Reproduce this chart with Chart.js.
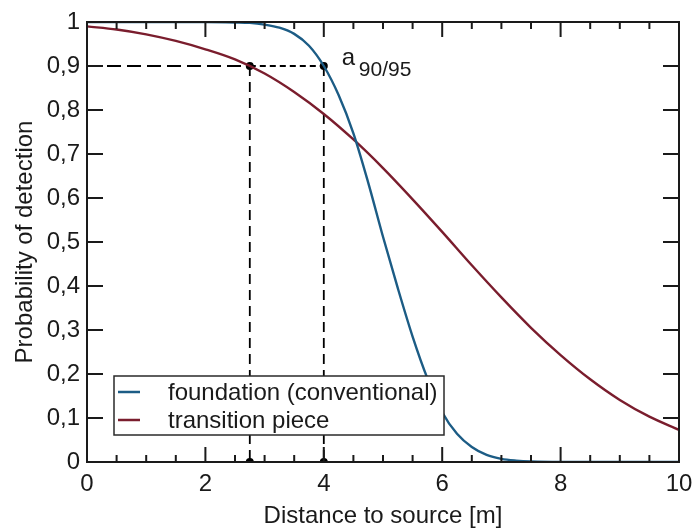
<!DOCTYPE html>
<html>
<head>
<meta charset="utf-8">
<script src="https://cdn.jsdelivr.net/npm/chart.js@4.4.1/dist/chart.umd.min.js"></script>
<style>
  html, body { margin: 0; padding: 0; background: #fff; }
</style>
</head>
<body>
<canvas id="pod" width="692" height="528"></canvas>
<script>
const FONT = "'Liberation Sans', Arial, sans-serif";

// foundation (conventional)
const foundationX = [0, 1, 2, 2.5, 2.75, 3, 3.25, 3.5, 3.75, 4, 4.25, 4.5, 4.75, 5, 5.25, 5.5, 5.75, 6, 6.25, 6.5, 6.75, 7, 7.25, 7.5, 8, 9, 10];
const foundationY = [1, 1, 1, 0.999, 0.998, 0.994, 0.987, 0.973, 0.946, 0.9, 0.834, 0.747, 0.635, 0.512, 0.395, 0.285, 0.19, 0.113, 0.064, 0.034, 0.016, 0.007, 0.003, 0.001, 0, 0, 0];

// transition piece
const transitionX = [0, 0.5, 1, 1.5, 2, 2.5, 3, 3.5, 4, 4.5, 5, 5.5, 6, 6.5, 7, 7.5, 8, 8.5, 9, 9.5, 10];
const transitionY = [0.99, 0.983, 0.972, 0.957, 0.938, 0.915, 0.883, 0.841, 0.791, 0.733, 0.668, 0.597, 0.523, 0.447, 0.374, 0.305, 0.243, 0.188, 0.141, 0.103, 0.073];

// a 90/95 read-off points (transition piece, foundation)
const a9095X = [2.75, 4];
const a9095Level = 0.9;

const xLabelTicks = [0, 2, 4, 6, 8, 10];
const yLabelTicks = [0, 0.1, 0.2, 0.3, 0.4, 0.5, 0.6, 0.7, 0.8, 0.9, 1];

const BLUE = '#1c5c85';
const RED = '#7a1d2d';
const INK = '#1a1a1a';

const toXY = (xs, ys) => xs.map((x, i) => ({ x: x, y: ys[i] }));

// frame + inward tick marks like the original plot
const frameTicks = {
  id: 'frameTicks',
  afterDraw(chart) {
    const { ctx, chartArea: a, scales: { x, y } } = chart;
    ctx.save();
    ctx.strokeStyle = INK;
    ctx.lineWidth = 2;
    ctx.strokeRect(a.left, a.top, a.right - a.left, a.bottom - a.top);
    ctx.beginPath();
    for (let i = 0; i <= 20; i++) {
      const v = i / 2;
      const px = x.getPixelForValue(v);
      const len = i % 4 === 0 ? 15 : 7;
      ctx.moveTo(px, a.bottom); ctx.lineTo(px, a.bottom - len);
      ctx.moveTo(px, a.top); ctx.lineTo(px, a.top + len);
    }
    yLabelTicks.forEach(v => {
      const py = y.getPixelForValue(v);
      ctx.moveTo(a.left, py); ctx.lineTo(a.left + 16, py);
      ctx.moveTo(a.right, py); ctx.lineTo(a.right - 16, py);
    });
    ctx.stroke();
    ctx.restore();
  }
};

// boxed legend sitting inside the plot + the a90/95 label
const boxLegend = {
  id: 'boxLegend',
  afterDatasetsDraw(chart) {
    const { ctx, chartArea: a, scales: { x, y } } = chart;
    const items = chart.data.datasets.filter(d => d.inLegend);
    const left = a.left + 27, top = a.top + 354, w = 330, h = 59;
    ctx.save();
    ctx.fillStyle = '#fff';
    ctx.fillRect(left, top, w, h);
    ctx.strokeStyle = '#2a2a2a';
    ctx.lineWidth = 1.5;
    ctx.strokeRect(left, top, w, h);
    ctx.font = '24px ' + FONT;
    ctx.textBaseline = 'alphabetic';
    items.forEach((d, i) => {
      const ly = top + 16 + i * 28;
      ctx.strokeStyle = d.borderColor;
      ctx.lineWidth = 2.5;
      ctx.beginPath();
      ctx.moveTo(left + 4, ly);
      ctx.lineTo(left + 26, ly);
      ctx.stroke();
      ctx.fillStyle = INK;
      ctx.fillText(d.label, left + 54, ly + 8);
    });

    // a 90/95 annotation next to the foundation point
    const ax = x.getPixelForValue(a9095X[1]) + 18;
    const ay = y.getPixelForValue(a9095Level);
    ctx.fillStyle = INK;
    ctx.font = '24px ' + FONT;
    ctx.fillText('a', ax, ay - 1);
    ctx.font = '21px ' + FONT;
    ctx.fillText('90/95', ax + 17, ay + 10);
    ctx.restore();
  }
};

const guide = (pts, dash, radius) => ({
  label: '',
  data: pts,
  borderColor: '#000',
  borderWidth: 1.8,
  borderDash: dash,
  pointRadius: radius,
  pointBackgroundColor: '#000',
  pointBorderWidth: 0,
  fill: false
});

new Chart(document.getElementById('pod'), {
  type: 'line',
  data: {
    datasets: [
      {
        label: 'foundation (conventional)',
        inLegend: true,
        data: toXY(foundationX, foundationY),
        borderColor: BLUE,
        borderWidth: 2.4,
        pointRadius: 0,
        cubicInterpolationMode: 'monotone',
        fill: false
      },
      {
        label: 'transition piece',
        inLegend: true,
        data: toXY(transitionX, transitionY),
        borderColor: RED,
        borderWidth: 2.4,
        pointRadius: 0,
        cubicInterpolationMode: 'monotone',
        fill: false
      },
      guide([{ x: 0, y: a9095Level }, { x: a9095X[0], y: a9095Level }], [14, 6], 0),
      guide([{ x: a9095X[0], y: a9095Level }, { x: a9095X[1], y: a9095Level }], [6, 4], 0),
      guide([{ x: a9095X[0], y: a9095Level }, { x: a9095X[0], y: 0 }], [10, 6], 4),
      guide([{ x: a9095X[1], y: a9095Level }, { x: a9095X[1], y: 0 }], [10, 6], 4)
    ]
  },
  options: {
    responsive: false,
    animation: false,
    devicePixelRatio: 1,
    layout: { padding: { left: 0, right: 13, top: 22, bottom: 0 } },
    plugins: {
      legend: { display: false },
      tooltip: { enabled: false }
    },
    scales: {
      x: {
        type: 'linear',
        min: 0,
        max: 10,
        afterFit: s => { s.height = 66; s.paddingLeft = 0; s.paddingRight = 0; },
        afterBuildTicks: s => { s.ticks = xLabelTicks.map(v => ({ value: v })); },
        grid: { display: false, drawTicks: false },
        border: { display: false },
        ticks: { color: INK, padding: 8, font: { family: FONT, size: 24 }, maxRotation: 0 },
        title: {
          display: true,
          text: 'Distance to source [m]',
          color: INK,
          font: { family: FONT, size: 24, lineHeight: 1 },
          padding: { top: 0, bottom: 0 }
        }
      },
      y: {
        type: 'linear',
        min: 0,
        max: 1,
        afterFit: s => { s.width = 87; s.paddingTop = 0; s.paddingBottom = 0; },
        afterBuildTicks: s => { s.ticks = yLabelTicks.map(v => ({ value: v })); },
        grid: { display: false, drawTicks: false },
        border: { display: false },
        ticks: {
          color: INK,
          padding: 7,
          font: { family: FONT, size: 24 },
          callback: v => (v === 0 || v === 1) ? String(v) : v.toFixed(1).replace('.', ',')
        },
        title: {
          display: true,
          text: 'Probability of detection',
          color: INK,
          font: { family: FONT, size: 24, lineHeight: 1 },
          padding: { top: 13, bottom: 0 }
        }
      }
    }
  },
  plugins: [frameTicks, boxLegend]
});
</script>
</body>
</html>
